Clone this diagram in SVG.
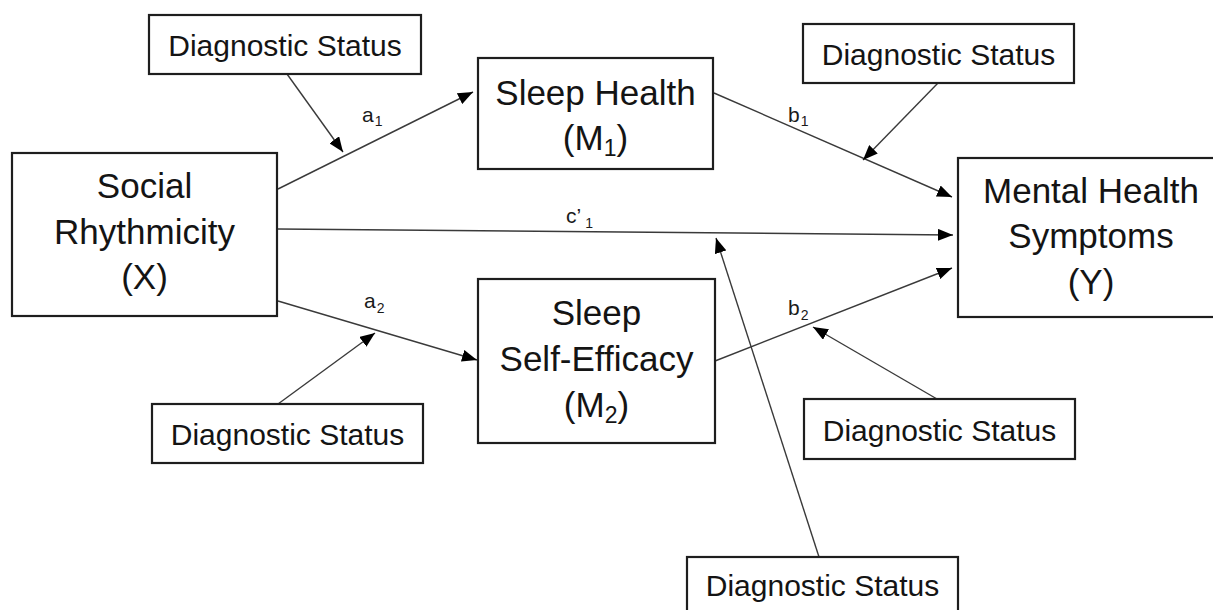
<svg xmlns="http://www.w3.org/2000/svg" width="1213" height="610" viewBox="0 0 1213 610">
<style>
.box{fill:#fff;stroke:#1e1e1e;stroke-width:2.2}
.big{font-family:"Liberation Sans",Arial,sans-serif;font-size:35px;fill:#141414;text-anchor:middle}
.ds{font-family:"Liberation Sans",Arial,sans-serif;font-size:30px;fill:#141414;text-anchor:middle}
.lbl{font-family:"Liberation Sans",Arial,sans-serif;font-size:21px;fill:#1a1a1a}
.sub{font-size:14px}
.bsub{font-size:23px}
.con{stroke:#3a3a3a;stroke-width:1.4;fill:none;marker-end:url(#ah)}
</style>
<defs>
<marker id="ah" markerUnits="userSpaceOnUse" markerWidth="15" markerHeight="12" refX="15" refY="6" orient="auto">
<path d="M0,0 L15,6 L0,12 Z" fill="#000"/>
</marker>
</defs>
<rect x="0" y="0" width="1213" height="610" fill="#fff"/>

<g id="connectors">
<line class="con" x1="278" y1="189" x2="473" y2="92"/>
<line class="con" x1="287" y1="74" x2="343" y2="152"/>
<line class="con" x1="714" y1="93" x2="952" y2="197"/>
<line class="con" x1="938" y1="83" x2="863" y2="160"/>
<line class="con" x1="278" y1="229" x2="953" y2="235"/>
<line class="con" x1="819" y1="557" x2="716" y2="238"/>
<line class="con" x1="278" y1="301" x2="477" y2="360"/>
<line class="con" x1="278" y1="404" x2="375" y2="333"/>
<line class="con" x1="715" y1="361" x2="952" y2="268"/>
<line class="con" x1="937" y1="399" x2="813" y2="327"/>
<text class="lbl" x="362" y="122">a<tspan class="sub" dy="4" dx="1">1</tspan></text>
<text class="lbl" x="788" y="122">b<tspan class="sub" dy="4" dx="1">1</tspan></text>
<text class="lbl" x="566" y="223">c’<tspan class="sub" dy="5" dx="4">1</tspan></text>
<text class="lbl" x="364" y="308">a<tspan class="sub" dy="5" dx="1">2</tspan></text>
<text class="lbl" x="788" y="315">b<tspan class="sub" dy="5" dx="1">2</tspan></text>
</g>

<g id="social">
<rect class="box" x="12" y="153" width="265" height="163"/>
<text class="big" x="144.5" y="198">Social</text>
<text class="big" x="144.5" y="244">Rhythmicity</text>
<text class="big" x="144.5" y="289">(X)</text>
</g>

<g id="sleep-health">
<rect class="box" x="478" y="58" width="235" height="111"/>
<text class="big" x="595.5" y="105">Sleep Health</text>
<text class="big" x="595.5" y="150">(M<tspan class="bsub" dy="6">1</tspan><tspan dy="-6">)</tspan></text>
</g>

<g id="sleep-self-efficacy">
<rect class="box" x="478" y="279" width="237" height="164"/>
<text class="big" x="596.5" y="325">Sleep</text>
<text class="big" x="596.5" y="371">Self-Efficacy</text>
<text class="big" x="596.5" y="417">(M<tspan class="bsub" dy="6">2</tspan><tspan dy="-6">)</tspan></text>
</g>

<g id="mental-health">
<rect class="box" x="958" y="158" width="266" height="159"/>
<text class="big" x="1091" y="203">Mental Health</text>
<text class="big" x="1091" y="248">Symptoms</text>
<text class="big" x="1091" y="294">(Y)</text>
</g>

<g id="ds-a1">
<rect class="box" x="149" y="15" width="272" height="59"/>
<text class="ds" x="285" y="56">Diagnostic Status</text>
</g>

<g id="ds-b1">
<rect class="box" x="803" y="24" width="271" height="59"/>
<text class="ds" x="938.5" y="65">Diagnostic Status</text>
</g>

<g id="ds-a2">
<rect class="box" x="152" y="404" width="271" height="59"/>
<text class="ds" x="287.5" y="445">Diagnostic Status</text>
</g>

<g id="ds-b2">
<rect class="box" x="804" y="399" width="271" height="60"/>
<text class="ds" x="939.5" y="441">Diagnostic Status</text>
</g>

<g id="ds-c">
<rect class="box" x="687" y="557" width="271" height="62"/>
<text class="ds" x="822.5" y="596">Diagnostic Status</text>
</g>
</svg>
